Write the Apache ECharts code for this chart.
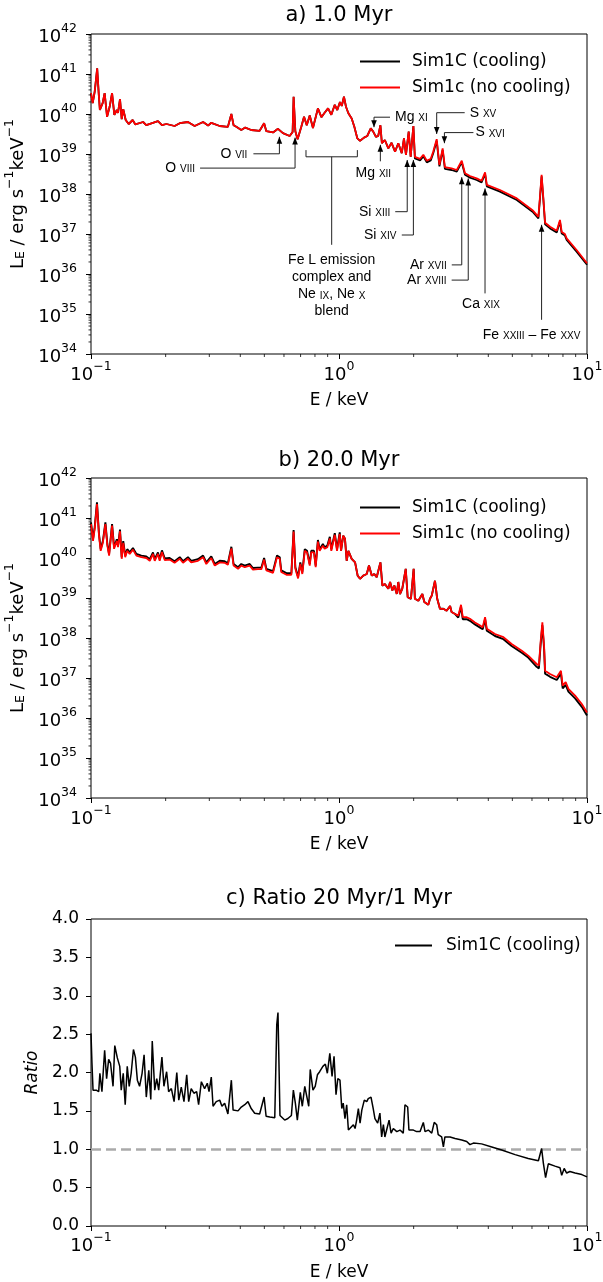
<!DOCTYPE html>
<html>
<head>
<meta charset="utf-8">
<script src="https://cdn.jsdelivr.net/npm/echarts@6/dist/echarts.min.js"></script>
<style>
html, body { margin: 0; padding: 0; background: #fff; }
#main { width: 603px; height: 1282px; }
</style>
</head>
<body>
<div id="main"></div>
<script>
// ---- panel a) 1.0 Myr : energy (keV) and log10 L_E ----
const energyA = [
  0.100, 0.1016, 0.1035, 0.1047, 0.1059, 0.1074, 0.1086, 0.1114, 0.1135, 0.1161,
  0.1189, 0.1216, 0.1242, 0.1271, 0.1285, 0.1309, 0.1330, 0.1349, 0.1380, 0.1419,
  0.1472, 0.1510, 0.1622, 0.1671, 0.1862, 0.1932, 0.2014, 0.2173, 0.2280, 0.2460,
  0.2618, 0.2831, 0.2965, 0.3055, 0.3304, 0.3565, 0.3681, 0.3758, 0.3855, 0.4036,
  0.4188, 0.4426, 0.4786, 0.4989, 0.5093, 0.5420, 0.5675, 0.5943, 0.6324, 0.6501,
  0.6561, 0.6668, 0.6808, 0.7047, 0.7228, 0.7413, 0.7621, 0.7852, 0.8222, 0.8492,
  0.8750, 0.9036, 0.9311, 0.9616, 0.9840, 1.009, 1.026, 1.047, 1.067, 1.091,
  1.125, 1.153, 1.186, 1.216, 1.262, 1.300, 1.343, 1.374, 1.409, 1.439,
  1.469, 1.489, 1.531, 1.581, 1.629, 1.683, 1.734, 1.791, 1.828, 1.862,
  1.910, 1.945, 1.995, 2.023, 2.123, 2.188, 2.259, 2.344, 2.399, 2.477,
  2.541, 2.618, 2.673, 2.844, 2.985, 3.126, 3.221, 3.373, 3.589, 3.758,
  3.882, 3.945, 4.457, 5.212, 6.067, 6.368, 6.457, 6.561, 6.668, 6.776,
  7.096, 7.551, 7.780, 7.907, 8.147, 8.279, 9.078, 10.0
];
const logLumA_noCool = [
  40.52, 40.27, 40.56, 40.85, 41.14, 40.52, 40.10, 40.27, 40.52, 39.93,
  40.18, 40.52, 39.98, 40.10, 40.03, 40.37, 39.87, 40.12, 39.85, 39.75,
  39.85, 39.74, 39.80, 39.72, 39.82, 39.72, 39.75, 39.70, 39.77, 39.80,
  39.70, 39.80, 39.71, 39.78, 39.70, 39.68, 40.00, 39.72, 39.68, 39.60,
  39.66, 39.60, 39.58, 39.77, 39.57, 39.54, 39.63, 39.52, 39.45, 39.55,
  40.43, 39.57, 39.37, 39.68, 39.93, 39.72, 39.96, 39.65, 40.14, 39.92,
  40.03, 40.14, 39.98, 40.23, 40.10, 40.30, 40.20, 40.43, 40.18, 40.02,
  39.89, 39.68, 39.39, 39.33, 39.41, 39.45, 39.64, 39.56, 39.43, 39.45,
  39.72, 39.27, 39.35, 39.14, 39.28, 39.06, 39.27, 39.02, 39.39, 38.98,
  39.56, 38.93, 39.70, 38.93, 38.88, 38.98, 38.83, 38.88, 39.06, 39.37,
  38.73, 39.14, 38.67, 38.64, 38.60, 38.83, 38.52, 38.45, 38.39, 38.33,
  38.54, 38.23, 38.10, 37.89, 37.58, 37.43, 37.90, 38.48, 37.90, 37.28,
  37.18, 37.08, 37.35, 37.05, 37.00, 36.89, 36.60, 36.27
];
const logLumA_cool = [
  40.52, 40.27, 40.56, 40.85, 41.14, 40.52, 40.10, 40.27, 40.52, 39.93,
  40.18, 40.52, 39.98, 40.10, 40.03, 40.37, 39.87, 40.12, 39.85, 39.75,
  39.85, 39.74, 39.80, 39.72, 39.82, 39.72, 39.75, 39.70, 39.77, 39.80,
  39.70, 39.80, 39.71, 39.78, 39.70, 39.68, 40.00, 39.72, 39.68, 39.60,
  39.66, 39.60, 39.58, 39.77, 39.57, 39.54, 39.63, 39.52, 39.45, 39.55,
  40.43, 39.57, 39.37, 39.68, 39.93, 39.72, 39.96, 39.65, 40.14, 39.92,
  40.03, 40.14, 39.98, 40.23, 40.10, 40.30, 40.20, 40.43, 40.18, 40.02,
  39.89, 39.68, 39.39, 39.33, 39.41, 39.45, 39.64, 39.56, 39.43, 39.45,
  39.72, 39.27, 39.35, 39.14, 39.28, 39.06, 39.27, 39.02, 39.39, 38.98,
  39.56, 38.93, 39.70, 38.89, 38.84, 38.94, 38.79, 38.84, 39.02, 39.33,
  38.69, 39.10, 38.63, 38.60, 38.56, 38.79, 38.48, 38.41, 38.35, 38.29,
  38.50, 38.19, 38.06, 37.85, 37.54, 37.39, 37.86, 38.44, 37.86, 37.24,
  37.14, 37.04, 37.31, 37.01, 36.96, 36.85, 36.56, 36.23
];

// ---- panel b) 20.0 Myr ----
const energyB = [
  0.100, 0.1019, 0.1035, 0.1057, 0.1077, 0.1094, 0.1117, 0.1143, 0.1164, 0.1183,
  0.1216, 0.1239, 0.1271, 0.1285, 0.1309, 0.1330, 0.1349, 0.1374, 0.1400, 0.1432,
  0.1476, 0.1524, 0.1596, 0.1671, 0.1726, 0.1778, 0.1807, 0.1862, 0.1892, 0.1932,
  0.1982, 0.2075, 0.2173, 0.2280, 0.2350, 0.2460, 0.2535, 0.2698, 0.2831, 0.2917,
  0.3055, 0.3155, 0.3304, 0.3459, 0.3565, 0.3681, 0.3758, 0.3917, 0.4036, 0.4169,
  0.4365, 0.4498, 0.4710, 0.4864, 0.4989, 0.5093, 0.5420, 0.5623, 0.5768, 0.5848,
  0.6138, 0.6427, 0.6561, 0.6668, 0.6839, 0.6982, 0.7112, 0.7278, 0.7430, 0.7621,
  0.7727, 0.7925, 0.8054, 0.8222, 0.8356, 0.8610, 0.8750, 0.8974, 0.9183, 0.9311,
  0.9616, 0.9817, 1.007,
  1.019, 1.040, 1.057, 1.074, 1.091, 1.125, 1.161, 1.189, 1.216, 1.253,
  1.294, 1.321, 1.355, 1.387, 1.419, 1.439, 1.469, 1.496, 1.531, 1.581,
  1.607, 1.641, 1.671, 1.710, 1.734, 1.762, 1.799, 1.858, 1.892, 1.950,
  2.000, 2.023, 2.089, 2.168, 2.208, 2.291, 2.328, 2.366, 2.438, 2.489,
  2.553, 2.636, 2.716, 2.805, 2.844, 2.938, 3.027, 3.105, 3.155, 3.273,
  3.373, 3.532, 3.707, 3.797, 3.882, 3.945, 4.256, 4.603, 4.966, 5.458,
  5.794, 6.266, 6.397, 6.501, 6.607, 6.714, 6.776, 7.096, 7.551, 7.852,
  7.980, 8.204, 8.414, 8.954, 9.527, 10.0
];
const logLumB_noCool = [
  40.85, 40.43, 40.73, 41.35, 40.56, 40.18, 40.39, 40.85, 40.31, 40.06,
  40.81, 40.23, 40.43, 40.27, 40.67, 39.98, 40.38, 40.02, 40.18, 40.10,
  40.21, 40.06, 40.02, 40.00, 39.93, 40.10, 39.93, 40.10, 39.93, 40.15,
  39.95, 39.96, 39.88, 39.98, 39.88, 39.98, 39.89, 39.93, 40.02, 39.85,
  40.00, 39.81, 39.89, 39.88, 39.83, 40.24, 39.81, 39.73, 39.81, 39.77,
  39.81, 39.71, 39.72, 39.72, 39.96, 39.69, 39.63, 40.02, 39.98, 39.65,
  39.58, 39.58, 40.66, 39.73, 39.49, 39.85, 39.60, 40.18, 40.14, 39.81,
  40.14, 40.14, 39.77, 40.41, 40.18, 40.31, 40.23, 40.27, 40.49, 40.18,
  40.58, 40.18, 40.60,
  40.18, 40.56, 40.48, 39.93, 40.18, 39.98, 39.89, 39.56, 39.48, 39.56,
  39.60, 39.81, 39.56, 39.60, 39.52, 39.48, 39.89, 39.31, 39.35, 39.23,
  39.40, 39.19, 39.31, 39.10, 39.40, 39.10, 39.23, 39.73, 39.02, 38.98,
  39.73, 38.98, 38.93, 39.10, 38.90, 38.83, 38.98, 39.06, 39.43, 38.98,
  38.73, 38.73, 38.68, 38.80, 38.65, 38.60, 38.56, 38.83, 38.52, 38.52,
  38.48, 38.39, 38.31, 38.27, 38.52, 38.23, 38.10, 38.02, 37.85, 37.68,
  37.56, 37.35, 37.31, 37.90, 38.39, 37.80, 37.18, 37.10, 37.02, 37.18,
  36.81, 36.90, 36.73, 36.56, 36.35, 36.14
];
const logLumB_cool = [
  40.89, 40.47, 40.77, 41.39, 40.60, 40.22, 40.43, 40.89, 40.35, 40.10,
  40.85, 40.27, 40.47, 40.31, 40.71, 40.02, 40.42, 40.06, 40.22, 40.14,
  40.25, 40.10, 40.06, 40.04, 39.97, 40.14, 39.97, 40.14, 39.97, 40.19,
  39.99, 40.00, 39.92, 40.02, 39.92, 40.02, 39.93, 39.97, 40.06, 39.89,
  40.04, 39.85, 39.93, 39.92, 39.87, 40.28, 39.85, 39.77, 39.85, 39.81,
  39.85, 39.75, 39.76, 39.76, 40.00, 39.73, 39.67, 40.06, 40.02, 39.69,
  39.62, 39.62, 40.70, 39.77, 39.53, 39.89, 39.64, 40.22, 40.18, 39.85,
  40.18, 40.18, 39.81, 40.45, 40.22, 40.35, 40.27, 40.31, 40.53, 40.22,
  40.62, 40.22, 40.64,
  40.18, 40.56, 40.48, 39.93, 40.18, 39.98, 39.89, 39.56, 39.48, 39.56,
  39.60, 39.81, 39.56, 39.60, 39.52, 39.48, 39.89, 39.31, 39.35, 39.23,
  39.40, 39.19, 39.31, 39.10, 39.40, 39.10, 39.23, 39.73, 39.02, 38.98,
  39.73, 38.98, 38.93, 39.10, 38.90, 38.83, 38.98, 39.06, 39.43, 38.98,
  38.73, 38.73, 38.68, 38.80, 38.65, 38.60, 38.51, 38.78, 38.47, 38.47,
  38.43, 38.34, 38.26, 38.22, 38.47, 38.18, 38.05, 37.97, 37.80, 37.63,
  37.51, 37.28, 37.24, 37.83, 38.32, 37.73, 37.11, 37.03, 36.95, 37.11,
  36.74, 36.83, 36.66, 36.49, 36.28, 36.06
];

// ---- panel c) ratio 20 Myr / 1 Myr (cooling run) ----
const energyC = [
  0.100, 0.1009, 0.1019, 0.1050, 0.1074, 0.1086, 0.1107, 0.1135, 0.1156, 0.1178,
  0.1199, 0.1227, 0.1247, 0.1277, 0.1306, 0.1324, 0.1349, 0.1374, 0.1400, 0.1426,
  0.1452, 0.1483, 0.1510, 0.1538, 0.1570, 0.1607, 0.1637, 0.1671, 0.1710, 0.1742,
  0.1766, 0.1807, 0.1841, 0.1875, 0.1932, 0.1968, 0.2018, 0.2056, 0.2109, 0.2163,
  0.2218, 0.2259, 0.2312, 0.2371, 0.2432, 0.2477, 0.2535, 0.2600, 0.2667, 0.2716,
  0.2786, 0.2871, 0.2944, 0.2992, 0.3055, 0.3105, 0.3199, 0.3304, 0.3373, 0.3459,
  0.3565, 0.3681, 0.3741, 0.3917, 0.4036, 0.4169, 0.4295, 0.4426, 0.4571, 0.4786,
  0.4864, 0.4989, 0.5082, 0.5260, 0.5508, 0.5610, 0.5675, 0.5728, 0.5781, 0.6039,
  0.6223, 0.6427, 0.6546, 0.6668, 0.6792, 0.6982, 0.7112, 0.7278, 0.7413, 0.7551,
  0.7656, 0.7852, 0.8017, 0.8185, 0.8356, 0.8610, 0.8810, 0.8974, 0.9183, 0.9376,
  0.9550, 0.9727,
  0.989, 1.009, 1.026, 1.040, 1.057, 1.074, 1.091, 1.107, 1.143, 1.161,
  1.178, 1.197, 1.216, 1.236, 1.265, 1.294, 1.312, 1.346, 1.374, 1.396,
  1.432, 1.462, 1.486, 1.510, 1.531, 1.567, 1.592, 1.622, 1.656, 1.710,
  1.762, 1.816, 1.845, 1.892, 1.914, 1.995, 2.056, 2.123, 2.188, 2.223,
  2.291, 2.366, 2.421, 2.477, 2.512, 2.594, 2.636, 2.673, 2.805, 2.938,
  3.126, 3.273, 3.373, 3.483, 3.758, 4.130, 4.529, 5.129, 5.794, 6.368,
  6.561, 6.668, 6.808, 6.982, 7.430, 7.780, 7.907, 8.091, 8.279, 8.531,
  8.954, 9.527, 10.0
];
const ratioC = [
  2.51, 2.12, 1.77, 1.77, 1.75, 1.99, 1.75, 2.29, 1.92, 2.17,
  2.12, 1.82, 2.35, 2.19, 2.08, 1.77, 1.99, 1.58, 2.08, 1.82,
  1.99, 2.30, 2.20, 1.90, 1.82, 1.99, 2.23, 1.68, 2.03, 1.65,
  2.41, 1.77, 1.92, 1.77, 2.20, 1.82, 2.01, 1.75, 1.79, 1.62,
  2.00, 1.64, 1.81, 1.62, 1.97, 1.62, 1.79, 1.73, 1.75, 1.58,
  1.88, 1.79, 1.86, 1.75, 1.94, 1.56, 1.62, 1.64, 1.56, 1.60,
  1.46, 1.90, 1.51, 1.50, 1.55, 1.58, 1.62, 1.53, 1.47, 1.46,
  1.44, 1.68, 1.43, 1.42, 1.41, 2.62, 2.78, 2.78, 1.44, 1.38,
  1.40, 1.44, 1.77, 1.60, 1.38, 1.74, 1.56, 1.82, 1.83, 1.56,
  2.04, 1.77, 1.82, 1.97, 2.01, 2.08, 2.11, 1.99, 2.25, 1.95,
  2.21, 1.71,
  1.92, 1.90, 1.53, 1.60, 1.40, 1.58, 1.25, 1.23, 1.32, 1.27,
  1.38, 1.53, 1.34, 1.51, 1.64, 1.62, 1.66, 1.68, 1.53, 1.40,
  1.34, 1.47, 1.16, 1.32, 1.16, 1.29, 1.38, 1.21, 1.27, 1.23,
  1.25, 1.21, 1.58, 1.55, 1.25, 1.25, 1.23, 1.23, 1.35, 1.23,
  1.25, 1.21, 1.35, 1.32, 1.19, 1.16, 1.03, 1.16, 1.16, 1.14,
  1.12, 1.10, 1.06, 1.08, 1.07, 1.03, 0.99, 0.93, 0.88, 0.85,
  1.01, 0.82, 0.63, 0.81, 0.78, 0.76, 0.66, 0.75, 0.69, 0.71,
  0.69, 0.67, 0.64
];

// ---- line identifications in panel a ----
const ionLabels = [
  '{e|O }{r|VII}', '{e|O }{r|VIII}', '{e|Mg }{r|XI}', '{e|Mg }{r|XII}',
  '{e|Si }{r|XIII}', '{e|Si }{r|XIV}', '{e|S }{r|XV}', '{e|S }{r|XVI}',
  '{e|Ar }{r|XVII}', '{e|Ar }{r|XVIII}', '{e|Ca }{r|XIX}', '{e|Fe }{r|XXIII}{e| \u2013 Fe }{r|XXV}'
];
const ionEnergy = [0.575, 0.665, 1.384, 1.468, 1.884, 1.995, 2.477, 2.661, 3.126, 3.32, 3.88, 6.56];
const ionArrowLogL = [39.43, 39.41, 39.67, 39.23, 38.85, 38.85, 39.50, 39.27, 38.42, 38.39, 38.14, 37.23];
const feLEnergy = [0.736, 1.186];
const feLLogL = 38.93;

// leader-line layout in pixels relative to the arrow tip
const ionLayout = [
  { down: false, path: [[0, 0], [0, 17], [-26, 17]], at: [-32, 17], align: 'right' },
  { down: false, path: [[0, 0], [0, 30.5], [-95, 30.5]], at: [-100, 30.5], align: 'right' },
  { down: true, path: [[0, 0], [0, -10], [16, -10]], at: [21, -10], align: 'left' },
  { down: false, path: [[0, 0], [0, 16.5]], at: [-7, 28], align: 'center' },
  { down: false, path: [[0, 0], [0, 51.7], [-12, 51.7]], at: [-17, 51.7], align: 'right' },
  { down: false, path: [[0, 0], [0, 75], [-11.6, 75]], at: [-17, 75], align: 'right' },
  { down: true, path: [[0, 0], [0, -21.3], [28, -21.3]], at: [33, -21.3], align: 'left' },
  { down: true, path: [[0, 0], [0, -10.6], [29, -10.6]], at: [31, -10.6], align: 'left' },
  { down: false, path: [[0, 0], [0, 87.7], [-10, 87.7]], at: [-15, 87.7], align: 'right' },
  { down: false, path: [[0, 0], [0, 101.7], [-16.6, 101.7]], at: [-21.6, 101.7], align: 'right' },
  { down: false, path: [[0, 0], [0, 105]], at: [-4, 115.5], align: 'center' },
  { down: false, path: [[0, 0], [0, 95]], at: [-10, 110], align: 'center' }
];

const FONT = 'DejaVu Sans';
const ANNO_FONT = 'Liberation Sans';
const BLACK = '#000000';
const RED = '#ff0000';

const toPairs = (xs, ys, isLog) => xs.map((x, i) => [x, isLog ? Math.pow(10, ys[i]) : ys[i]]);

const powRich = {
  b: { fontFamily: FONT, fontSize: 18, color: BLACK, lineHeight: 24, verticalAlign: 'bottom' },
  s: { fontFamily: FONT, fontSize: 12.5, color: BLACK, lineHeight: 13, verticalAlign: 'top' }
};
function powLabel(v) {
  const e = Math.round(Math.log10(v));
  return '{b|10}{s|' + (e < 0 ? '\u2212' + (-e) : e) + '}';
}

// element name + small roman numeral on (about) the same baseline
const ionRich = {
  e: { fontFamily: ANNO_FONT, fontSize: 14, lineHeight: 17, verticalAlign: 'top', fill: BLACK },
  r: { fontFamily: ANNO_FONT, fontSize: 10, lineHeight: 17, verticalAlign: 'middle', fill: BLACK }
};

function energyAxis(gridIndex, margin) {
  return {
    type: 'log', logBase: 10, gridIndex: gridIndex, min: 0.1, max: 10,
    name: 'E / keV', nameLocation: 'middle', nameGap: 38,
    nameTextStyle: { fontFamily: FONT, fontSize: 17, color: BLACK },
    axisLine: { show: false },
    axisTick: { show: true, length: 5, lineStyle: { color: BLACK, width: 1 } },
    axisLabel: { margin: margin, formatter: powLabel, rich: powRich },
    splitLine: { show: false }
  };
}

function lumAxis(gridIndex) {
  return {
    type: 'log', logBase: 10, gridIndex: gridIndex, min: 1e34, max: 1e42, splitNumber: 8,
    name: '{n|L}{sub|E}{n| / erg s}{sup|\u22121}{n|keV}{sup|\u22121}',
    nameLocation: 'middle', nameRotate: 90, nameGap: 60,
    nameTextStyle: {
      rich: {
        n: { fontFamily: FONT, fontSize: 18, color: BLACK, lineHeight: 24, verticalAlign: 'bottom' },
        sub: { fontFamily: FONT, fontSize: 12.5, color: BLACK, lineHeight: 13, verticalAlign: 'bottom' },
        sup: { fontFamily: FONT, fontSize: 12.5, color: BLACK, lineHeight: 13, verticalAlign: 'top' }
      }
    },
    axisLine: { show: false },
    axisTick: { show: true, length: 5, lineStyle: { color: BLACK, width: 1 } },
    axisLabel: { margin: 14, formatter: powLabel, rich: powRich },
    splitLine: { show: false }
  };
}

// log-spaced minor ticks (2..9 x 10^n), drawn outside the frame
function minorTicks(idx, yBottom, withY) {
  const data = [];
  [0.1, 1].forEach(d => { for (let k = 2; k <= 9; k++) data.push([k * d, yBottom, 0]); });
  if (withY) {
    for (let n = 34; n < 42; n++) for (let k = 2; k <= 9; k++) data.push([0.1, k * Math.pow(10, n), 1]);
  }
  return {
    type: 'custom', xAxisIndex: idx, yAxisIndex: idx, silent: true, clip: false, z: 5,
    data: data,
    renderItem: function (params, api) {
      const p = api.coord([api.value(0), api.value(1)]);
      const isY = api.value(2) === 1;
      return {
        type: 'line',
        shape: isY ? { x1: p[0], y1: p[1], x2: p[0] - 2.5, y2: p[1] }
                   : { x1: p[0], y1: p[1], x2: p[0], y2: p[1] + 3 },
        style: { stroke: BLACK, lineWidth: 0.8 }
      };
    }
  };
}

function spectrum(idx, name, xs, ys, color, width) {
  return {
    type: 'line', name: name, xAxisIndex: idx, yAxisIndex: idx,
    data: toPairs(xs, ys, true), symbol: 'none', showSymbol: false,
    lineStyle: { color: color, width: width }, itemStyle: { color: color },
    z: color === RED ? 3 : 2
  };
}

function legendAt(left, top, names, width, pad) {
  return {
    data: names, left: left, top: top, orient: 'vertical', icon: 'rect',
    itemWidth: width, itemHeight: 2, itemGap: 5, selectedMode: false,
    textStyle: { fontFamily: FONT, fontSize: 17, color: BLACK, lineHeight: 21, padding: [0, 0, 0, pad] }
  };
}

const chart = echarts.init(document.getElementById('main'));

chart.setOption({
  animation: false,
  backgroundColor: '#fff',
  grid: [
    { left: 91, top: 34, width: 496, height: 320, show: true, borderColor: BLACK, borderWidth: 1, backgroundColor: 'transparent', outerBoundsMode: 'none' },
    { left: 91, top: 478, width: 496, height: 320, show: true, borderColor: BLACK, borderWidth: 1, backgroundColor: 'transparent', outerBoundsMode: 'none' },
    { left: 91, top: 919, width: 496, height: 307, show: true, borderColor: BLACK, borderWidth: 1, backgroundColor: 'transparent', outerBoundsMode: 'none' }
  ],
  graphic: [
    { type: 'text', x: 339, y: 16, style: { text: 'a) 1.0 Myr', fontFamily: FONT, fontSize: 21, fill: BLACK, align: 'center', verticalAlign: 'middle' } },
    { type: 'text', x: 339, y: 461, style: { text: 'b) 20.0 Myr', fontFamily: FONT, fontSize: 21, fill: BLACK, align: 'center', verticalAlign: 'middle' } },
    { type: 'text', x: 339, y: 899, style: { text: 'c) Ratio 20 Myr/1 Myr', fontFamily: FONT, fontSize: 21, fill: BLACK, align: 'center', verticalAlign: 'middle' } }
  ],
  legend: [
    legendAt(355, 46, ['Sim1C (cooling)', 'Sim1c (no cooling)'], 40, 7),
    legendAt(355, 492, ['Sim1C (cooling)', 'Sim1c (no cooling)'], 40, 7),
    legendAt(390, 930, ['Sim1C (cooling)'], 37, 9)
  ],
  xAxis: [energyAxis(0, 6), energyAxis(1, 6), energyAxis(2, 5)],
  yAxis: [
    lumAxis(0),
    lumAxis(1),
    {
      type: 'value', gridIndex: 2, min: 0, max: 4, interval: 0.5,
      name: 'Ratio', nameLocation: 'middle', nameRotate: 90, nameGap: 48,
      nameTextStyle: { fontFamily: FONT, fontSize: 17, fontStyle: 'italic', color: BLACK },
      axisLine: { show: false },
      axisTick: { show: true, length: 5, lineStyle: { color: BLACK, width: 1 } },
      axisLabel: { margin: 12, fontFamily: FONT, fontSize: 17, color: BLACK, formatter: v => v.toFixed(1) },
      splitLine: { show: false }
    }
  ],
  series: [
    spectrum(0, 'Sim1C (cooling)', energyA, logLumA_cool, BLACK, 1.8),
    spectrum(0, 'Sim1c (no cooling)', energyA, logLumA_noCool, RED, 1.8),
    spectrum(1, 'Sim1C (cooling)', energyB, logLumB_cool, BLACK, 1.9),
    spectrum(1, 'Sim1c (no cooling)', energyB, logLumB_noCool, RED, 1.8),
    {
      type: 'line', name: 'Sim1C (cooling)', xAxisIndex: 2, yAxisIndex: 2,
      data: toPairs(energyC, ratioC, false), symbol: 'none', showSymbol: false,
      lineStyle: { color: BLACK, width: 1.5 }, itemStyle: { color: BLACK }, z: 3,
      markLine: {
        silent: true, symbol: 'none', label: { show: false }, z: 2,
        lineStyle: { color: '#aaaaaa', type: [10, 5], width: 2.5 },
        data: [{ yAxis: 1 }]
      }
    },
    minorTicks(0, 1e34, true),
    minorTicks(1, 1e34, true),
    minorTicks(2, 0, false),
    {
      // arrows and labels for the identified emission lines
      type: 'custom', xAxisIndex: 0, yAxisIndex: 0, silent: true, clip: false, z: 6,
      data: ionEnergy.map((e, i) => [e, Math.pow(10, ionArrowLogL[i]), i]),
      renderItem: function (params, api) {
        const i = api.value(2);
        const tip = api.coord([api.value(0), api.value(1)]);
        const lay = ionLayout[i];
        const d = lay.down ? -1 : 1;
        return {
          type: 'group',
          children: [
            { type: 'polyline', shape: { points: lay.path.map(p => [tip[0] + p[0], tip[1] + p[1]]) },
              style: { stroke: '#222', lineWidth: 1, fill: null } },
            { type: 'polygon', shape: { points: [[tip[0], tip[1]], [tip[0] - 2.8, tip[1] + 7 * d], [tip[0] + 2.8, tip[1] + 7 * d]] },
              style: { fill: BLACK } },
            { type: 'text', x: tip[0] + lay.at[0], y: tip[1] + lay.at[1] + 1.5,
              style: { text: ionLabels[i], rich: ionRich, align: lay.align, verticalAlign: 'middle' } }
          ]
        };
      }
    },
    {
      // Fe L complex bracket
      type: 'custom', xAxisIndex: 0, yAxisIndex: 0, silent: true, clip: false, z: 6,
      data: [[feLEnergy[0], Math.pow(10, feLLogL)]],
      renderItem: function (params, api) {
        const a = api.coord([feLEnergy[0], Math.pow(10, feLLogL)]);
        const b = api.coord([feLEnergy[1], Math.pow(10, feLLogL)]);
        const mid = (a[0] + b[0]) / 2;
        return {
          type: 'group',
          children: [
            { type: 'polyline', shape: { points: [[a[0], a[1] - 6.7], a, b, [b[0], b[1] - 6.7]] },
              style: { stroke: '#222', lineWidth: 1, fill: null } },
            { type: 'line', shape: { x1: mid, y1: a[1], x2: mid, y2: a[1] + 88 },
              style: { stroke: '#222', lineWidth: 1 } },
            { type: 'text', x: mid, y: a[1] + 96.5,
              style: {
                text: '{e|Fe L emission}\n{e|complex and}\n{e|Ne }{r|IX}{e|, Ne }{r|X}\n{e|blend}',
                rich: ionRich, align: 'center', verticalAlign: 'top'
              } }
          ]
        };
      }
    }
  ]
});
</script>
</body>
</html>
